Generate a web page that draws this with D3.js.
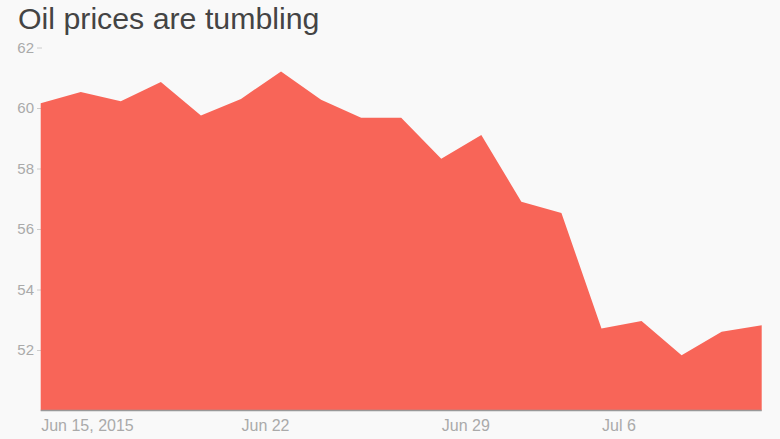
<!DOCTYPE html>
<html>
<head>
<meta charset="utf-8">
<script src="https://cdn.jsdelivr.net/npm/d3@7"></script>
<style>
  html, body { margin: 0; padding: 0; background: #f9f9f9; }
  svg { display: block; }
  text { font-family: "Liberation Sans", Arial, Helvetica, sans-serif; }
</style>
</head>
<body>
<script>
const dates = ["2015-06-15","2015-06-16","2015-06-17","2015-06-18","2015-06-19",
               "2015-06-22","2015-06-23","2015-06-24","2015-06-25","2015-06-26",
               "2015-06-29","2015-06-30","2015-07-01","2015-07-02",
               "2015-07-06","2015-07-07","2015-07-08","2015-07-09","2015-07-10"];
const prices = [60.16, 60.53, 60.22, 60.86, 59.75,
                60.30, 61.21, 60.27, 59.68, 59.68,
                58.32, 59.11, 56.90, 56.53,
                52.71, 52.96, 51.83, 52.60, 52.82];
const xTickDates = ["2015-06-15","2015-06-22","2015-06-29","2015-07-06"];
const xTickLabels = ["Jun 15, 2015","Jun 22","Jun 29","Jul 6"];
const yTicks = [52, 54, 56, 58, 60, 62];
const yDomain = [50, 62];
const title = "Oil prices are tumbling";

const W = 780, H = 439;
const svg = d3.select("body").append("svg").attr("width", W).attr("height", H);
svg.append("rect").attr("width", W).attr("height", H).attr("fill", "#f9f9f9");

const x = d3.scalePoint().domain(dates).range([40.7, 761.7]);
const y = d3.scaleLinear().domain(yDomain).range([410.5, 47.5]);

svg.append("text").attr("x", 18).attr("y", 29)
  .attr("font-size", 30.3).attr("fill", "#444").text(title);

// y axis
const yAxis = d3.axisLeft(y).tickValues(yTicks).tickSize(5).tickPadding(3);
const gy = svg.append("g").attr("transform", "translate(42,0)").call(yAxis);
gy.select(".domain").remove();
gy.selectAll(".tick line").attr("stroke", "#ccc");
gy.selectAll(".tick text").attr("fill", "#aaa").attr("font-size", 15)
  .attr("font-family", "Liberation Sans, Arial, sans-serif");

// area
const data = dates.map((d, i) => ({d, v: prices[i]}));
const area = d3.area().x(p => x(p.d)).y0(y(yDomain[0])).y1(p => y(p.v));
svg.append("path").datum(data).attr("d", area).attr("fill", "#f86558");

// x axis
const labelMap = new Map(xTickDates.map((d, i) => [d, xTickLabels[i]]));
const xAxis = d3.axisBottom(x).tickValues(xTickDates).tickSize(0).tickPadding(9)
  .tickFormat(d => labelMap.get(d));
const gx = svg.append("g").attr("transform", `translate(0,${y(yDomain[0])})`).call(xAxis);
gx.select(".domain").attr("stroke", "#999").attr("stroke-width", 1.5)
  .attr("d", `M${x.range()[0]},0H${x.range()[1]}`);
gx.selectAll(".tick text").attr("fill", "#aaa").attr("font-size", 16)
  .attr("text-anchor", "start")
  .attr("font-family", "Liberation Sans, Arial, sans-serif");
</script>
</body>
</html>
